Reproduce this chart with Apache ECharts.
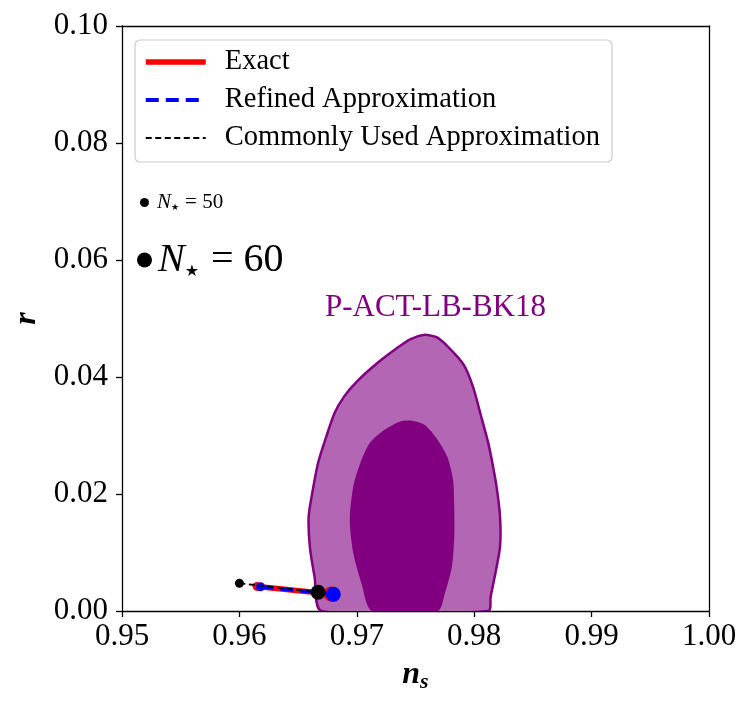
<!DOCTYPE html>
<html>
<head>
<meta charset="utf-8">
<script src="https://cdn.jsdelivr.net/npm/echarts@6/dist/echarts.min.js"></script>
<style>
html,body{margin:0;padding:0;background:#fff;}
#c{width:753px;height:706px;}
</style>
</head>
<body>
<div id="c"></div>
<script>
// ---- data ----
const xTicks = [0.95, 0.96, 0.97, 0.98, 0.99, 1.00];
const yTicks = [0.00, 0.02, 0.04, 0.06, 0.08, 0.10];

// N=50 (first), N=60 (second)
const nsExact = [0.9615, 0.9678];
const rExact = [0.00420, 0.00292];
const nsRefined = [0.9618, 0.9680];
const rRefined = [0.00415, 0.00285];
const nsCommon = [0.9600, 0.9667];
const rCommon = [0.00475, 0.00320];

// P-ACT-LB-BK18 contours (68% inner, 95% outer)
const outerNs = [0.9670, 0.9664, 0.9660, 0.9659, 0.9662, 0.9667, 0.9674, 0.9681, 0.9689, 0.9700, 0.9717, 0.9734, 0.9745, 0.9757, 0.9768, 0.9779, 0.9791, 0.9799, 0.9806, 0.9812, 0.9815, 0.9819, 0.9822, 0.9822, 0.9818, 0.9814, 0.9812];
const outerR = [0.0000, 0.0059, 0.0110, 0.0161, 0.0201, 0.0253, 0.0298, 0.0338, 0.0366, 0.0392, 0.0423, 0.0449, 0.0464, 0.0472, 0.0468, 0.0449, 0.0421, 0.0383, 0.0332, 0.0287, 0.0258, 0.0213, 0.0161, 0.0110, 0.0064, 0.0024, 0.0000];
const innerNs = [0.9713, 0.9704, 0.9697, 0.9694, 0.9697, 0.9703, 0.9711, 0.9723, 0.9737, 0.9748, 0.9758, 0.9768, 0.9777, 0.9782, 0.9783, 0.9783, 0.9781, 0.9775, 0.9769];
const innerR = [0.0000, 0.0047, 0.0099, 0.0156, 0.0213, 0.0253, 0.0287, 0.0309, 0.0324, 0.0325, 0.0318, 0.0295, 0.0264, 0.0224, 0.0178, 0.0127, 0.0076, 0.0030, 0.0000];

const datasetLabel = 'P-ACT-LB-BK18';
const labelPos = [0.9767, 0.0519];

const legendNames = ['Exact', 'Refined Approximation', 'Commonly Used Approximation'];
const nLabels = ['N50', 'N60'];
const nValues = {N50: '50', N60: '60'};

const FONT = 'Liberation Serif';

function zip(a, b) { return a.map((v, i) => [v, b[i]]); }

function contourSeries(xs, ys, fill, stroke, z) {
  return {
    type: 'custom',
    name: 'contour' + z,
    coordinateSystem: 'cartesian2d',
    clip: true,
    z: z,
    silent: true,
    data: [[xs[0], ys[0]]],
    renderItem: function (params, api) {
      const pts = xs.map((x, i) => api.coord([x, ys[i]]));
      return {
        type: 'polygon',
        shape: { points: pts, smooth: 0.25 },
        style: { fill: fill, stroke: stroke, lineWidth: stroke ? 2.5 : 0 }
      };
    }
  };
}

const chart = echarts.init(document.getElementById('c'), null, { renderer: 'canvas' });

const sizeFn = function (v, p) { return p.dataIndex === 0 ? 9 : 15; };

const lineStyles = [
  { color: '#ff0000', width: 5.5, type: 'solid' },
  { color: '#0000ff', width: 3.8, type: [13, 7] },
  { color: '#000000', width: 1.8, type: [6, 3.5] }
];

function nRich(big) {
  const fs = big ? 40 : 21;
  const lh = big ? 46 : 24;
  return {
    n: { fontSize: fs, fontStyle: 'italic', fontFamily: FONT, color: '#000', lineHeight: lh },
    s: { fontSize: big ? 16 : 9, fontFamily: 'DejaVu Sans', color: '#000', verticalAlign: 'bottom', lineHeight: lh, padding: [0, 0, big ? 3 : 2, 0] },
    t: { fontSize: fs, fontFamily: FONT, color: '#000', lineHeight: lh, padding: [0, 0, 0, big ? 12 : 6] }
  };
}

const option = {
  backgroundColor: '#ffffff',
  animation: false,
  grid: { left: 122, right: 44, top: 26, bottom: 95 },
  xAxis: [{
    type: 'value', min: xTicks[0], max: xTicks[xTicks.length - 1], interval: 0.01,
    position: 'bottom',
    axisLine: { show: true, onZero: false, lineStyle: { color: '#000', width: 1.3 } },
    axisTick: { show: true, inside: false, length: 6, lineStyle: { color: '#000', width: 1.3 } },
    axisLabel: { formatter: v => v.toFixed(2), fontSize: 31, fontFamily: FONT, color: '#000', margin: 10 },
    splitLine: { show: false },
    name: '{a|n}{b|s}',
    nameLocation: 'middle', nameGap: 46,
    nameTextStyle: {
      rich: {
        a: { fontSize: 32, fontStyle: 'italic', fontWeight: 'bold', fontFamily: FONT, color: '#000' },
        b: { fontSize: 22, fontStyle: 'italic', fontWeight: 'bold', fontFamily: FONT, color: '#000', verticalAlign: 'bottom', padding: [14, 0, 0, 0] }
      }
    }
  }, {
    type: 'value', min: xTicks[0], max: xTicks[xTicks.length - 1], position: 'top',
    axisLine: { show: true, onZero: false, lineStyle: { color: '#000', width: 1.3 } },
    axisTick: { show: false }, axisLabel: { show: false }, splitLine: { show: false }
  }],
  yAxis: [{
    type: 'value', min: yTicks[0], max: yTicks[yTicks.length - 1], interval: 0.02,
    position: 'left',
    axisLine: { show: true, onZero: false, lineStyle: { color: '#000', width: 1.3 } },
    axisTick: { show: true, inside: false, length: 6, lineStyle: { color: '#000', width: 1.3 } },
    axisLabel: { formatter: v => v.toFixed(2), fontSize: 31, fontFamily: FONT, color: '#000', margin: 14 },
    splitLine: { show: false },
    name: 'r', nameLocation: 'middle', nameGap: 76, nameRotate: 90,
    nameTextStyle: { fontSize: 32, fontStyle: 'italic', fontWeight: 'bold', fontFamily: FONT, color: '#000' }
  }, {
    type: 'value', min: yTicks[0], max: yTicks[yTicks.length - 1], position: 'right',
    axisLine: { show: true, onZero: false, lineStyle: { color: '#000', width: 1.3 } },
    axisTick: { show: false }, axisLabel: { show: false }, splitLine: { show: false }
  }],
  legend: [{
    data: legendNames.map((n, i) => ({ name: n, lineStyle: { width: lineStyles[i].width, type: lineStyles[i].type, color: lineStyles[i].color } })),
    orient: 'vertical',
    left: 135, top: 40,
    padding: [7, 12, 9, 8],
    itemWidth: 60, itemHeight: 14, itemGap: 8,
    backgroundColor: '#ffffff',
    borderColor: '#cccccc', borderWidth: 1.2, borderRadius: 5,
    selectedMode: false,
    itemStyle: { opacity: 0 },
    textStyle: { fontSize: 28.5, fontFamily: FONT, color: '#000', lineHeight: 30, padding: [0, 0, 0, 14] }
  }, {
    data: [nLabels[0]],
    orient: 'vertical', left: 140, top: 192, padding: 0,
    itemWidth: 9, itemHeight: 9, icon: 'circle', selectedMode: false,
    formatter: n => '{n|N}{s|★}{t|= ' + nValues[n] + '}',
    textStyle: { color: '#000', padding: [0, 0, 0, 3], rich: nRich(false) }
  }, {
    data: [nLabels[1]],
    orient: 'vertical', left: 137, top: 240, padding: 0,
    itemWidth: 15, itemHeight: 15, icon: 'circle', selectedMode: false,
    formatter: n => '{n|N}{s|★}{t|= ' + nValues[n] + '}',
    textStyle: { color: '#000', padding: [0, 0, 0, 1], rich: nRich(true) }
  }],
  series: [
    contourSeries(outerNs, outerR, '#B366B3', '#800080', 1),
    contourSeries(innerNs, innerR, '#800080', null, 2),
    {
      type: 'scatter', name: 'label', data: [labelPos], symbolSize: 0, z: 3, silent: true,
      itemStyle: { opacity: 1 },
      label: { show: true, position: 'inside', formatter: datasetLabel, fontSize: 31, fontFamily: FONT, color: '#800080', opacity: 1 }
    },
    {
      type: 'line', name: legendNames[0], data: zip(nsExact, rExact), symbol: 'none', z: 4,
      lineStyle: lineStyles[0], itemStyle: { color: '#ff0000' }
    },
    { type: 'scatter', name: 'ExactPts', data: zip(nsExact, rExact), symbolSize: sizeFn, z: 4, itemStyle: { color: '#ff0000', opacity: 1 } },
    {
      type: 'line', name: legendNames[1], data: zip(nsRefined, rRefined), symbol: 'none', z: 5,
      lineStyle: lineStyles[1], itemStyle: { color: '#0000ff' }
    },
    { type: 'scatter', name: 'RefinedPts', data: zip(nsRefined, rRefined), symbolSize: sizeFn, z: 5, itemStyle: { color: '#0000ff', opacity: 1 } },
    {
      type: 'line', name: legendNames[2], data: zip(nsCommon, rCommon), symbol: 'none', z: 6,
      lineStyle: lineStyles[2], itemStyle: { color: '#000000' }
    },
    { type: 'scatter', name: 'CommonPts', data: zip(nsCommon, rCommon), symbolSize: sizeFn, z: 6, itemStyle: { color: '#000000', opacity: 1 } },
    { type: 'scatter', name: nLabels[0], data: [], itemStyle: { color: '#000', opacity: 1 } },
    { type: 'scatter', name: nLabels[1], data: [], itemStyle: { color: '#000', opacity: 1 } }
  ]
};
chart.setOption(option);
</script>
</body>
</html>
